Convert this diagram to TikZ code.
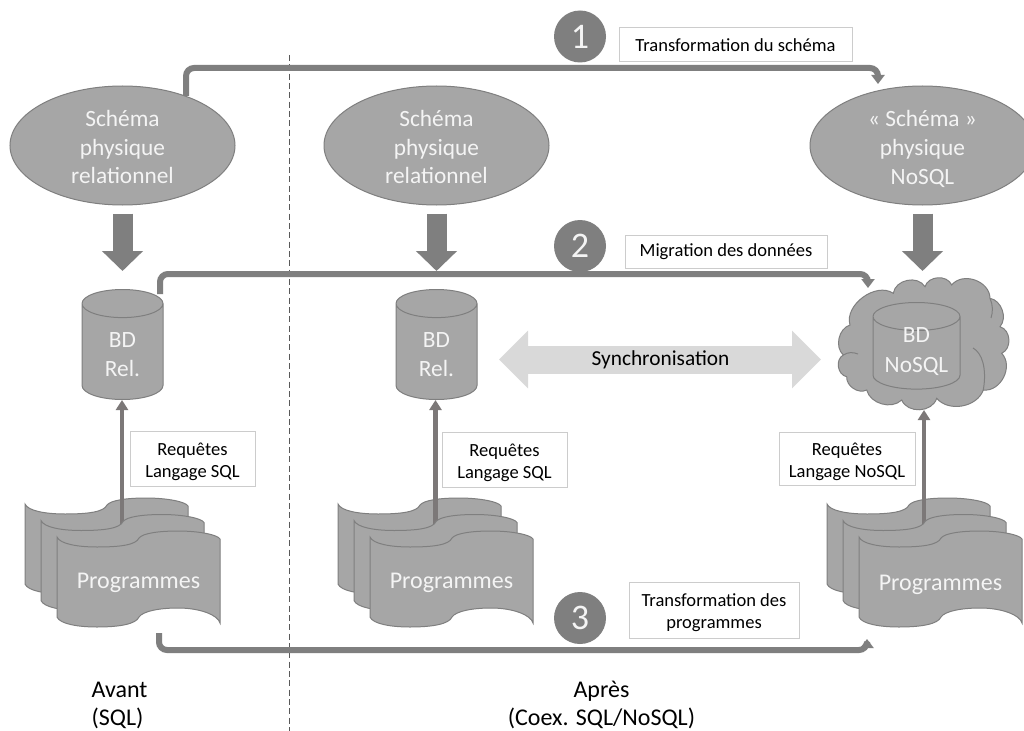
\documentclass[tikz,border=0pt]{standalone}
\usepackage{fontspec}
\setmainfont{Carlito}
\usetikzlibrary{arrows.meta,shapes.geometric}
\definecolor{fillg}{HTML}{A6A6A6}
\definecolor{lineg}{HTML}{7F7F7F}
\definecolor{darkg}{HTML}{7F7F7F}
\definecolor{thing}{HTML}{7C7878}
\definecolor{txtw}{HTML}{F4F4F4}
\definecolor{boxg}{HTML}{CCCCCC}
\def\pxu{0.75pt}
\tikzset{
  x=0.75pt,y=-0.75pt,
  schema/.style={ellipse,draw=lineg,line width=0.75pt,fill=fillg,inner sep=0pt,minimum width=225*\pxu,minimum height=119*\pxu,text=txtw,align=center,font=\fontsize{17.5pt}{21.4pt}\selectfont},
  dbase/.style={cylinder,shape border rotate=90,aspect=0.8,draw=lineg,line width=0.75pt,fill=fillg,inner sep=0pt,minimum width=81*\pxu,minimum height=110*\pxu,anchor=north,text=txtw,align=center,font=\fontsize{17.5pt}{21.8pt}\selectfont},
  numdot/.style={circle,fill=darkg,inner sep=0pt,minimum size=52*\pxu,text=txtw,font=\fontsize{27pt}{27pt}\selectfont},
  notebox/.style={draw=boxg,line width=0.75pt,fill=white,inner sep=0pt,align=center,text=black,font=\fontsize{13.9pt}{16.7pt}\selectfont},
  bigdown/.style={draw=darkg,line width=20*\pxu,-{Triangle[length=20*\pxu,width=40*\pxu]}},
  conn/.style={draw=darkg,line width=6*\pxu,rounded corners=8*\pxu,-{Triangle[length=9*\pxu,width=13*\pxu]}},
  thinup/.style={draw=thing,line width=4.5*\pxu,-{Triangle[length=10*\pxu,width=12*\pxu]}},
  docshape/.style={draw=lineg,line width=0.75pt,fill=fillg},
  doctext/.style={text=txtw,inner sep=0pt,font=\fontsize{18pt}{22pt}\selectfont},
  caption/.style={text=black,inner sep=0pt,align=center,font=\fontsize{18pt}{21pt}\selectfont},
}
\newcommand{\docsheet}[2]{%
  \path[docshape,shift={(#1,#2)}] (57,537) .. controls (60,544) and (78,547) .. (97,547) .. controls (120,547) and (136,545) .. (139,538) .. controls (143,533) and (160,531) .. (178,531) .. controls (200,531) and (218,535) .. (220,539) -- (220,623) .. controls (218,615) and (200,608) .. (178,608) .. controls (160,608) and (143,611) .. (139,617) .. controls (136,624) and (120,627) .. (97,627) .. controls (78,627) and (60,624) .. (57,617) -- cycle;%
}
\newcommand{\lowfix}{\rule{0pt}{14pt}}
\begin{document}
\begin{tikzpicture}
\clip (0,0) rectangle (1024,731);
\fill[white] (0,0) rectangle (1024,731);

% divider
\coordinate (divtop) at (289,55);
\coordinate (divbot) at (289,731);
\draw[draw=black!65,line width=0.6pt,dash pattern=on 4.5pt off 2.5pt] (divtop) -- (divbot);

% schemas
\node[schema] (s1) at (122.5,145.5) {\strut Schéma\\physique\\relationnel};
\node[schema] (s2) at (436.5,145.5) {\strut Schéma\\physique\\relationnel};
\node[schema] (s3) at (922.5,145.5) {\strut « Schéma »\\physique\\\smash{NoSQL}};

% databases
\node[dbase] (db1) at (122.5,289) {\rule{0pt}{15.5pt}BD\\Rel.};
\node[dbase] (db2) at (436.5,289) {\rule{0pt}{15.5pt}BD\\Rel.};

% cloud
\path[docshape] (893.3,293.3) to[bend left=70,looseness=1.1] (925,286.7) to[bend left=70,looseness=1.1] (951.7,285)
  to[bend left=70,looseness=1.1] (990,298.3) to[bend left=60] (1000,326.7) to[bend left=70,looseness=1.1] (1001.7,353.3)
  to[bend left=70,looseness=1.1] (983.3,390) to[bend left=60] (936.7,398.3) to[bend left=70,looseness=1.1] (901.7,400)
  to[bend left=60] (866.7,390) to[bend left=60] (846.7,376.7) to[bend left=70,looseness=1.1] (843.3,355)
  to[bend left=60] (850,325) to[bend left=70,looseness=1.0] (893.3,293.3) -- cycle;
\draw[draw=lineg,line width=0.75pt] (973,348) .. controls (982,353) and (987,368) .. (983.3,390);
\draw[draw=lineg,line width=0.75pt] (990,298.3) .. controls (993,305) and (993,312) .. (991,318);
\draw[draw=lineg,line width=0.75pt] (843.3,355) .. controls (848,352) and (853,352) .. (858,354);
\node[dbase,minimum width=87*\pxu,minimum height=80*\pxu,aspect=0.44,cylinder uses custom fill,cylinder body fill=fillg,cylinder end fill=black!20] (db3) at (916.5,302) {\smash{BD}\rule{0pt}{9pt}\\NoSQL};
\coordinate (cloudtop) at (868,288);
\coordinate (cloudbot) at (924,410);

% big arrows
\draw[bigdown,shorten <=8*\pxu,shorten >=18*\pxu] (s1.south) -- (db1.north);
\draw[bigdown,shorten <=8*\pxu,shorten >=18*\pxu] (s2.south) -- (db2.north);
\coordinate (cloudcrest) at (922.5,289);
\draw[bigdown,shorten <=8*\pxu,shorten >=18*\pxu] (s3.south) -- (cloudcrest);

% synchronisation
\coordinate (syncl) at (499,359.5);
\coordinate (syncr) at (821,359.5);
\draw[draw=black!15,line width=28*\pxu,{Triangle[length=29*\pxu,width=56*\pxu]}-{Triangle[length=29*\pxu,width=56*\pxu]}] (syncl) -- (syncr);
\node[text=black,inner sep=0pt,font=\fontsize{16pt}{18pt}\selectfont] (synctxt) at (660.5,360) {Synchronisation};

% programmes stacks
\docsheet{-32}{-33}
\coordinate (p1) at (122,530);
\draw[thinup] (p1) -- (p1 |- db1.south);
\docsheet{-16}{-16.5}
\docsheet{0}{0}
\node[doctext] (pg1) at (138.5,582.5) {Programmes};

\docsheet{281}{-33}
\coordinate (p2) at (435.5,530);
\draw[thinup] (p2) -- (p2 |- db2.south);
\docsheet{297}{-16.5}
\docsheet{313}{0}
\node[doctext] (pg2) at (451.5,582.5) {Programmes};

\docsheet{770}{-33}
\coordinate (p3) at (924,530);
\draw[thinup] (p3) -- (cloudbot);
\docsheet{786}{-16.5}
\docsheet{802}{0}
\node[doctext] (pg3) at (940.5,585) {Programmes};

% query labels
\node[notebox,minimum width=125*\pxu,minimum height=55*\pxu] (q1) at (192.5,458.5) {\lowfix Requêtes\\Langage SQL};
\node[notebox,minimum width=125*\pxu,minimum height=55*\pxu] (q2) at (504.5,459.5) {\lowfix Requêtes\\Langage SQL};
\node[notebox,minimum width=136*\pxu,minimum height=53*\pxu] (q3) at (847,458.5) {\lowfix Requêtes\\Langage NoSQL};

% long connectors
\coordinate (c1y) at (500,68);
\coordinate (c1a) at (878,84);
\draw[conn] (s1.38) -- (s1.38 |- c1y) -| (c1a);
\coordinate (c2a) at (160,294);
\coordinate (c2y) at (500,274);
\draw[conn] (c2a) -- (c2a |- c2y) -| (cloudtop);
\coordinate (c3a) at (159,633);
\coordinate (c3y) at (500,650);
\coordinate (c3b) at (867,639);
\draw[conn] (c3a) -- (c3a |- c3y) -| (c3b);

% steps
\node[numdot] (n1) at (580,36.5) {1};
\node[numdot] (n2) at (580,246) {2};
\node[numdot] (n3) at (580,618) {3};
\node[notebox,minimum width=233*\pxu,minimum height=34*\pxu] (t1) at (735.5,45) {Transformation du schéma};
\node[notebox,minimum width=202*\pxu,minimum height=33*\pxu] (t2) at (726,251.5) {Migration des données};
\node[notebox,minimum width=170*\pxu,minimum height=56*\pxu] (t3) at (714,610) {\lowfix Transformation des\\programmes};

% captions
\node[caption,align=left] (av) at (119.5,705) {Avant\\(SQL)};
\node[caption] (ap) at (601.5,705) {Après\\(Coex. SQL/NoSQL)};
\end{tikzpicture}
\end{document}
